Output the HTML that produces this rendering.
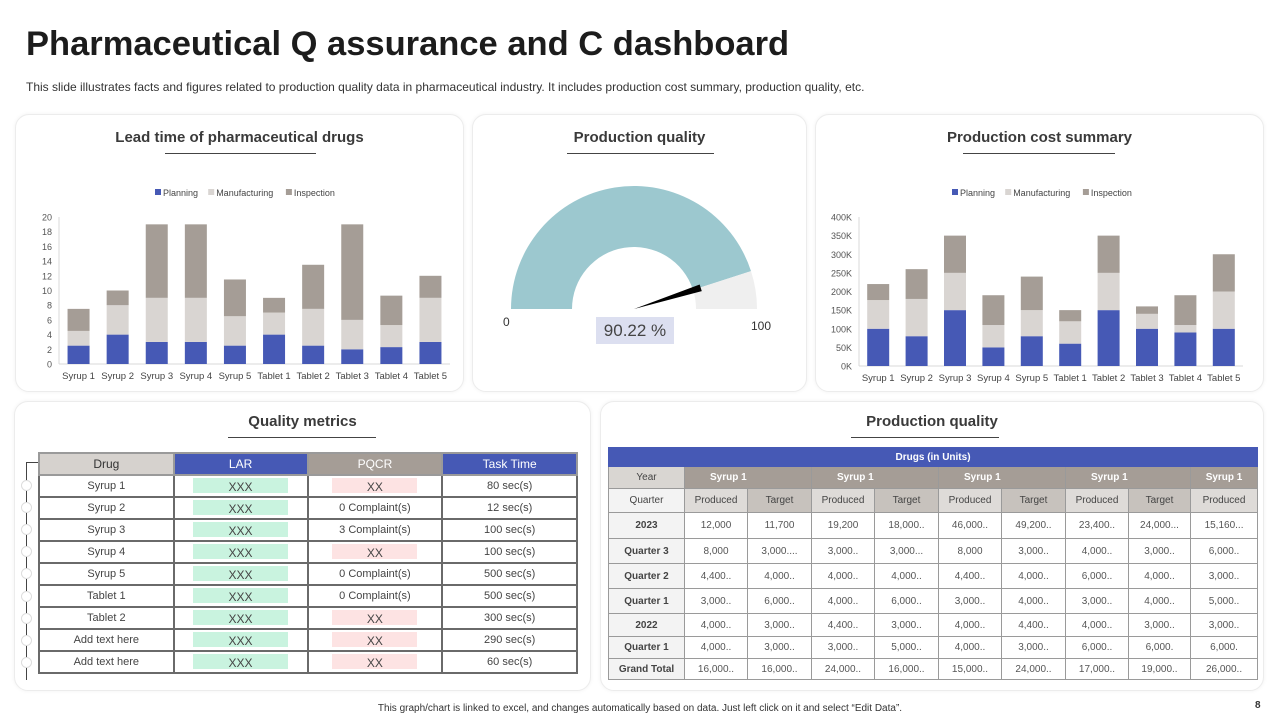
<!DOCTYPE html>
<html><head><meta charset="utf-8">
<style>
*{box-sizing:border-box;margin:0;padding:0}
body{width:1280px;height:720px;background:#fff;font-family:"Liberation Sans",sans-serif;position:relative;overflow:hidden;color:#333}
.abs{position:absolute}
.panel{position:absolute;border:1px solid #ececec;border-radius:14px;box-shadow:0 0 4px rgba(0,0,0,0.06);background:#fff}
.ptitle{position:absolute;font-weight:bold;font-size:15px;color:#3a3a3a;text-align:center;white-space:nowrap}
.uline{position:absolute;height:1px;background:#444}
table{border-collapse:collapse;position:absolute;font-family:"Liberation Sans",sans-serif}
#qm td,#qm th{border:2px solid #6a6a6a;height:22px;text-align:center;font-size:11px;color:#444;font-weight:normal;padding:0}
#qm th{font-size:12px;border-color:#9a9a9a}
.g{display:inline-block;width:95px;height:15px;background:#c9f3df;line-height:18px;font-size:12px;color:#444}
.p{display:inline-block;width:85px;height:15px;background:#fde3e3;line-height:18px;font-size:12px;color:#444}
#pq{table-layout:fixed}
#pq td{border:1px solid #9a9a9a;text-align:center;font-size:10px;color:#555;padding:0;overflow:hidden;white-space:nowrap}
#pq .lab{background:#f3f3f3;font-weight:bold;color:#444}
</style></head><body>
<div class="abs" style="left:26px;top:25px;font-size:34.5px;font-weight:bold;color:#1c1c1c;white-space:nowrap">Pharmaceutical Q assurance and C dashboard</div>
<div class="abs" style="left:26px;top:80px;font-size:12px;color:#333;white-space:nowrap">This slide illustrates facts and figures related to production quality data in pharmaceutical industry. It includes production cost summary, production quality, etc.</div>

<div class="panel" style="left:15px;top:114px;width:449px;height:278px"></div>
<div class="panel" style="left:472px;top:114px;width:335px;height:278px"></div>
<div class="panel" style="left:815px;top:114px;width:449px;height:278px"></div>
<div class="panel" style="left:14px;top:401px;width:577px;height:290px"></div>
<div class="panel" style="left:600px;top:401px;width:664px;height:290px"></div>

<div class="ptitle" style="left:15px;width:449px;top:129px">Lead time of pharmaceutical drugs</div>
<div class="uline" style="left:165px;width:151px;top:153px"></div>
<div class="ptitle" style="left:472px;width:335px;top:129px">Production quality</div>
<div class="uline" style="left:567px;width:147px;top:153px"></div>
<div class="ptitle" style="left:815px;width:449px;top:129px">Production cost summary</div>
<div class="uline" style="left:963px;width:152px;top:153px"></div>
<div class="ptitle" style="left:14px;width:577px;top:413px">Quality metrics</div>
<div class="uline" style="left:228px;width:148px;top:437px"></div>
<div class="ptitle" style="left:600px;width:664px;top:413px">Production quality</div>
<div class="uline" style="left:851px;width:148px;top:437px"></div>

<svg id="charts" class="abs" style="left:0;top:0" width="1280" height="400"></svg>

<div class="abs" style="left:596px;top:317px;width:78px;height:27px;background:#dcdff0;font-size:17px;color:#444;text-align:center;line-height:27px">90.22 %</div>
<div class="abs" style="left:503px;top:315px;font-size:12px;color:#333">0</div>
<div class="abs" style="left:751px;top:319px;font-size:12px;color:#333">100</div>

<div class="abs" style="left:26px;top:462px;width:1px;height:218px;background:#444"></div>
<div class="abs" style="left:26px;top:462px;width:12px;height:1px;background:#444"></div>
<div id="dots"></div>

<table id="qm" style="left:38px;top:452px;width:540px">
<tr style="height:22px"><th style="background:#d6d2ce;color:#333;width:135px">Drug</th><th style="background:#4659b5;color:#fff;width:134px">LAR</th><th style="background:#a59d96;color:#fff;width:135px">PQCR</th><th style="background:#4659b5;color:#fff;width:135px">Task Time</th></tr>
<tr><td>Syrup 1</td><td><span class="g">XXX</span></td><td><span class="p">XX</span></td><td>80 sec(s)</td></tr>
<tr><td>Syrup 2</td><td><span class="g">XXX</span></td><td>0 Complaint(s)</td><td>12 sec(s)</td></tr>
<tr><td>Syrup 3</td><td><span class="g">XXX</span></td><td>3 Complaint(s)</td><td>100 sec(s)</td></tr>
<tr><td>Syrup 4</td><td><span class="g">XXX</span></td><td><span class="p">XX</span></td><td>100 sec(s)</td></tr>
<tr><td>Syrup 5</td><td><span class="g">XXX</span></td><td>0 Complaint(s)</td><td>500 sec(s)</td></tr>
<tr><td>Tablet 1</td><td><span class="g">XXX</span></td><td>0 Complaint(s)</td><td>500 sec(s)</td></tr>
<tr><td>Tablet 2</td><td><span class="g">XXX</span></td><td><span class="p">XX</span></td><td>300 sec(s)</td></tr>
<tr><td>Add text here</td><td><span class="g">XXX</span></td><td><span class="p">XX</span></td><td>290 sec(s)</td></tr>
<tr><td>Add text here</td><td><span class="g">XXX</span></td><td><span class="p">XX</span></td><td>60 sec(s)</td></tr>
</table>

<table id="pq" style="left:608px;top:447px;width:649px">
<colgroup><col style="width:76px"><col style="width:63px"><col style="width:64px"><col style="width:63px"><col style="width:64px"><col style="width:63px"><col style="width:64px"><col style="width:63px"><col style="width:62px"><col style="width:67px"></colgroup>
<tr style="height:19px"><td colspan="10" style="background:#4659b5;color:#fff;font-weight:bold;border-color:#4659b5">Drugs (in Units)</td></tr>
<tr style="height:22px"><td class="lab" style="background:#d9d6d2;font-weight:normal">Year</td>
<td colspan="2" style="background:#a59d96;color:#fff;text-align:left;padding-left:25px;font-weight:bold">Syrup 1</td>
<td colspan="2" style="background:#a59d96;color:#fff;text-align:left;padding-left:25px;font-weight:bold">Syrup 1</td>
<td colspan="2" style="background:#a59d96;color:#fff;text-align:left;padding-left:25px;font-weight:bold">Syrup 1</td>
<td colspan="2" style="background:#a59d96;color:#fff;text-align:left;padding-left:25px;font-weight:bold">Syrup 1</td>
<td style="background:#a59d96;color:#fff;font-weight:bold">Syrup 1</td></tr>
<tr style="height:24px;font-size:11px"><td class="lab" style="font-weight:normal">Quarter</td>
<td style="background:#dedbd8;color:#444">Produced</td><td style="background:#c7c2bd;color:#444">Target</td>
<td style="background:#dedbd8;color:#444">Produced</td><td style="background:#c7c2bd;color:#444">Target</td>
<td style="background:#dedbd8;color:#444">Produced</td><td style="background:#c7c2bd;color:#444">Target</td>
<td style="background:#dedbd8;color:#444">Produced</td><td style="background:#c7c2bd;color:#444">Target</td>
<td style="background:#dedbd8;color:#444">Produced</td></tr>
<tr style="height:26px"><td class="lab">2023</td><td>12,000</td><td>11,700</td><td>19,200</td><td>18,000..</td><td>46,000..</td><td>49,200..</td><td>23,400..</td><td>24,000...</td><td>15,160...</td></tr>
<tr style="height:25px"><td class="lab">Quarter 3</td><td>8,000</td><td>3,000....</td><td>3,000..</td><td>3,000...</td><td>8,000</td><td>3,000..</td><td>4,000..</td><td>3,000..</td><td>6,000..</td></tr>
<tr style="height:25px"><td class="lab">Quarter 2</td><td>4,400..</td><td>4,000..</td><td>4,000..</td><td>4,000..</td><td>4,400..</td><td>4,000..</td><td>6,000..</td><td>4,000..</td><td>3,000..</td></tr>
<tr style="height:25px"><td class="lab">Quarter 1</td><td>3,000..</td><td>6,000..</td><td>4,000..</td><td>6,000..</td><td>3,000..</td><td>4,000..</td><td>3,000..</td><td>4,000..</td><td>5,000..</td></tr>
<tr style="height:23px"><td class="lab">2022</td><td>4,000..</td><td>3,000..</td><td>4,400..</td><td>3,000..</td><td>4,000..</td><td>4,400..</td><td>4,000..</td><td>3,000..</td><td>3,000..</td></tr>
<tr style="height:22px"><td class="lab">Quarter 1</td><td>4,000..</td><td>3,000..</td><td>3,000..</td><td>5,000..</td><td>4,000..</td><td>3,000..</td><td>6,000..</td><td>6,000.</td><td>6,000.</td></tr>
<tr style="height:21px"><td class="lab">Grand Total</td><td>16,000..</td><td>16,000..</td><td>24,000..</td><td>16,000..</td><td>15,000..</td><td>24,000..</td><td>17,000..</td><td>19,000..</td><td>26,000..</td></tr>
</table>

<div class="abs" style="left:0;width:1280px;top:703px;text-align:center;font-size:10px;color:#333">This graph/chart is linked to excel, and changes automatically based on data. Just left click on it and select “Edit Data”.</div>
<div class="abs" style="left:1255px;top:700px;font-size:10px;font-weight:bold;color:#333">8</div>

<script>
const categories = ["Syrup 1","Syrup 2","Syrup 3","Syrup 4","Syrup 5","Tablet 1","Tablet 2","Tablet 3","Tablet 4","Tablet 5"];
const seriesNames = ["Planning","Manufacturing","Inspection"];
const leadPlanning = [2.5,4,3,3,2.5,4,2.5,2,2.3,3];
const leadManufacturing = [2,4,6,6,4,3,5,4,3,6];
const leadInspection = [3,2,10,10,5,2,6,13,4,3];
const leadTicks = [0,2,4,6,8,10,12,14,16,18,20];
const costPlanning = [100,80,150,50,80,60,150,100,90,100];
const costManufacturing = [77,100,100,60,70,60,100,40,20,100];
const costInspection = [43,80,100,80,90,30,100,20,80,100];
const costTicks = [0,50,100,150,200,250,300,350,400];
const gaugeValue = [90.22];
const gaugeMax = [100];

const NS="http://www.w3.org/2000/svg";
const svg=document.getElementById('charts');
const colors=["#4659b5","#d9d5d2","#a59d96"];
function mk(tag,attrs,parent){const e=document.createElementNS(NS,tag);for(const k in attrs)e.setAttribute(k,attrs[k]);(parent||svg).appendChild(e);return e;}

function stacked(cfg){
  const g=mk('g',{});
  
  
  const max=cfg.ticks[cfg.ticks.length-1];
  const y=v=>cfg.y0-(v/max)*(cfg.y0-cfg.yTop);
  const cw=(cfg.x1-cfg.x0)/categories.length;
  const x=i=>cfg.x0+(i+0.5)*cw;
  mk('line',{x1:cfg.x0,x2:cfg.x0,y1:cfg.yTop,y2:cfg.y0,stroke:'#d9d9d9'},g);
  mk('line',{x1:cfg.x0,x2:cfg.x1,y1:cfg.y0,y2:cfg.y0,stroke:'#d9d9d9'},g);
  cfg.ticks.forEach(t=>{
    const tx=mk('text',{x:cfg.x0-7,y:y(t)+3.5,'text-anchor':'end','font-size':9,fill:'#555'},g);
    tx.textContent=t+cfg.suffix;
    
    
  });
  const series=cfg.series;
  categories.forEach((c,i)=>{
    let base=0;
    series.forEach((s,k)=>{
      const v=s[i];
      const r=mk('rect',{x:x(i)-11,width:22,y:y(base+v),height:y(base)-y(base+v),fill:colors[k]},g);
      
      
      base+=v;
    });
    const t=mk('text',{x:x(i),y:cfg.y0+15,'text-anchor':'middle','font-size':9.5,fill:'#444'},g);
    t.textContent=c;
    
    
  });
  let lx=cfg.legendX;
  seriesNames.forEach((n,k)=>{
    mk('rect',{x:lx,y:189,width:6,height:6,fill:colors[k]},g);
    const t=mk('text',{x:lx+8,y:196,'font-size':9,fill:'#444'},g);
    t.textContent=n;
    
    
    lx+=8+n.length*4.9+6;
  });
}
stacked({name:'lead-time-chart',x0:59,x1:450,y0:364,yTop:217,ticks:leadTicks,suffix:'',legendX:155,series:[leadPlanning,leadManufacturing,leadInspection]});
stacked({name:'cost-chart',x0:859,x1:1243,y0:366,yTop:217,ticks:costTicks,suffix:'K',legendX:952,series:[costPlanning,costManufacturing,costInspection]});

(function(){
  const cx=634,cy=309,R=123,r=62;
  const frac=gaugeValue[0]/gaugeMax[0];
  const pt=(rad,f)=>{const a=Math.PI*(1-f);return [cx+rad*Math.cos(a),cy-rad*Math.sin(a)];};
  function seg(f0,f1,fill,name){
    const a=pt(R,f0),b=pt(R,f1),c=pt(r,f1),d=pt(r,f0);
    const p=mk('path',{d:`M${a} A${R},${R} 0 0 1 ${b} L${c} A${r},${r} 0 0 0 ${d} Z`,fill:fill});
    
    
  }
  seg(0,frac-0.002,'#9cc8cf','gauge-fill');
  seg(frac-0.002,1,'#efefef','gauge-remainder');
  const tip=pt(r+8,frac), a=Math.PI*(1-frac);
  const w=3.5, nx=Math.sin(a)*w, ny=Math.cos(a)*w;
  const n=mk('polygon',{points:`${cx},${cy} ${tip[0]-nx},${tip[1]-ny} ${tip[0]+nx},${tip[1]+ny}`,fill:'#000'});
  
  
})();

const dots=document.getElementById('dots');
for(let i=0;i<9;i++){
  const d=document.createElement('div');
  d.className='abs';
  d.style.cssText=`left:21px;top:${480+i*22.1}px;width:11px;height:11px;border-radius:50%;border:1px solid #ddd;background:#fff`;
  
  
  dots.appendChild(d);
}
document.querySelectorAll('#qm td, #pq td').forEach(td=>{
  
  
});
</script>
</body></html>
